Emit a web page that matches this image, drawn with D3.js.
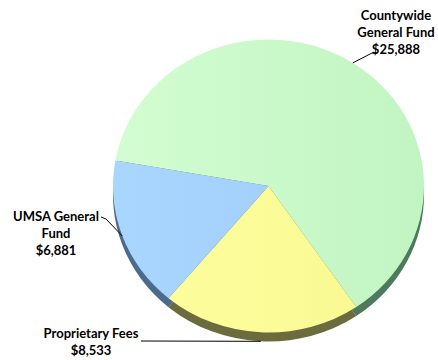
<!DOCTYPE html>
<html>
<head>
<meta charset="utf-8">
<script src="https://cdn.jsdelivr.net/npm/d3@7"></script>
<style>
  body { margin: 0; background: #fff; }
  text { font-family: Lato, "Open Sans", sans-serif; font-weight: bold; font-size: 13px; fill: #000; }
</style>
</head>
<body>
<div id="chart"></div>
<script>
// data
var labels = [["Countywide", "General Fund"], ["Proprietary Fees"], ["UMSA General", "Fund"]];
var values = [25888, 8533, 6881];
var topColors = [["#d2fdd2", "#c2f4c2"], ["#fefea0", "#f8f890"], ["#a9d6fe", "#9ccbf9"]];
var sideColors = ["#4d7a5c", "#6b6b3e", "#4a6b8e"];

var width = 438, height = 360;
var cx = 268.5, cy = 186, rx = 155.5, ry = 146.5, depth = 9;

var svg = d3.select("#chart")
  .append("svg")
  .attr("width", width)
  .attr("height", height);

var defs = svg.append("defs");
topColors.forEach(function(c, i) {
  var g = defs.append("linearGradient")
    .attr("id", "grad" + i)
    .attr("gradientUnits", "userSpaceOnUse")
    .attr("x1", -rx).attr("y1", 0)
    .attr("x2", rx).attr("y2", 0);
  g.append("stop").attr("offset", "0%").attr("stop-color", c[0]);
  g.append("stop").attr("offset", "100%").attr("stop-color", c[1]);
});

var start = 280 * Math.PI / 180;
var pie = d3.pie().sort(null).startAngle(start).endAngle(start + 2 * Math.PI);
var arcs = pie(values);

var arc = d3.arc().innerRadius(0).outerRadius(rx);
var k = ry / rx;

// side walls: shifted copy under the top face
svg.append("g")
  .attr("transform", "translate(" + cx + "," + (cy + depth) + ") scale(1," + k + ")")
  .selectAll("path")
  .data(arcs)
  .enter().append("path")
  .attr("d", arc)
  .attr("fill", function(d, i) { return sideColors[i]; });

// top face
svg.append("g")
  .attr("transform", "translate(" + cx + "," + cy + ") scale(1," + k + ")")
  .selectAll("path")
  .data(arcs)
  .enter().append("path")
  .attr("d", arc)
  .attr("fill", function(d, i) { return "url(#grad" + i + ")"; });

function edgePoint(a, dy) {
  return [cx + rx * Math.sin(a), cy - ry * Math.cos(a) + (dy || 0)];
}
function mid(d) { return (d.startAngle + d.endAngle) / 2; }

// labels
var fmt = d3.format(",");
var labelPos = [
  { x: 396, y: 20 },
  { x: 91, y: 338 },
  { x: 56, y: 221 }
];

labelPos.forEach(function(p, i) {
  var t = svg.append("text")
    .attr("x", p.x)
    .attr("y", p.y)
    .attr("text-anchor", "middle");
  var lines = labels[i].concat(["$" + fmt(values[i])]);
  lines.forEach(function(l, j) {
    t.append("tspan")
      .attr("x", p.x)
      .attr("dy", j === 0 ? 0 : 17.2)
      .text(l);
  });
});

// leader lines
var line = d3.line();
var e0 = edgePoint(mid(arcs[0]));
var e1 = edgePoint(mid(arcs[1]), depth);
var e2 = edgePoint(mid(arcs[2]));
var leaders = [
  [e0, [372, 53], [376, 53]],
  [[141, 341], e1],
  [[101, 217], [106, 219], e2]
];
svg.append("g").selectAll("path")
  .data(leaders)
  .enter().append("path")
  .attr("d", line)
  .attr("fill", "none")
  .attr("stroke", "#000")
  .attr("stroke-width", 1);
</script>
</body>
</html>
